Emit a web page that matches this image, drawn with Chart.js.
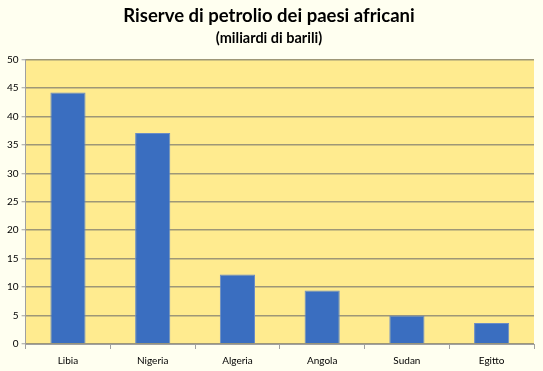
<!DOCTYPE html>
<html>
<head>
<meta charset="utf-8">
<script src="https://cdn.jsdelivr.net/npm/chart.js@4"></script>
<style>
  html, body { margin: 0; padding: 0; background: #fffff0; }
  #wrap { width: 543px; height: 371px; }
</style>
</head>
<body>
<div id="wrap"><canvas id="chartRiserve" width="543" height="371"></canvas></div>
<script>
// categories and values (miliardi di barili)
var paesi = ["Libia", "Nigeria", "Algeria", "Angola", "Sudan", "Egitto"];
var riserve = [44.2, 37.1, 12.2, 9.4, 5.0, 3.7];
var yTicks = [0, 5, 10, 15, 20, 25, 30, 35, 40, 45, 50];

var font = "Lato, 'Open Sans', sans-serif";

// paint the yellow plot area behind the bars
var plotBg = {
  id: 'plotBg',
  beforeDraw: function(chart) {
    var a = chart.chartArea, ctx = chart.ctx;
    ctx.save();
    ctx.fillStyle = '#ffeb8f';
    ctx.fillRect(a.left, a.top, a.right - a.left, a.bottom - a.top);
    ctx.restore();
  }
};

var ctx = document.getElementById("chartRiserve").getContext("2d");
var chart = new Chart(ctx, {
  type: 'bar',
  data: {
    labels: paesi,
    datasets: [{
      data: riserve,
      backgroundColor: '#3a6ec0',
      borderColor: '#6a8cc6',
      borderWidth: 1,
      barPercentage: 0.415,
      categoryPercentage: 1
    }]
  },
  options: {
    responsive: false,
    animation: false,
    layout: { padding: { left: 4, right: 9, top: 5, bottom: -2 } },
    plugins: {
      legend: { display: false },
      tooltip: { enabled: false },
      title: {
        display: true,
        text: 'Riserve di petrolio dei paesi africani',
        color: '#000',
        font: { family: font, size: 18.5, weight: 'bold' },
        padding: { top: 0, bottom: 2 }
      },
      subtitle: {
        display: true,
        text: '(miliardi di barili)',
        color: '#000',
        font: { family: font, size: 14.5, weight: 'bold' },
        padding: { top: 0, bottom: 13 }
      }
    },
    scales: {
      x: {
        grid: {
          display: true,
          drawOnChartArea: false,
          drawTicks: true,
          tickLength: 5,
          color: '#a0a0a0'
        },
        border: { display: true, color: '#a0a0a0', width: 1 },
        ticks: { color: '#000', font: { family: font, size: 10 }, padding: 6 }
      },
      y: {
        min: 0,
        max: 50,
        afterBuildTicks: function(axis) {
          axis.ticks = yTicks.map(function(v) { return { value: v }; });
        },
        grid: {
          color: '#9e9777',
          lineWidth: 1.5,
          tickLength: 4,
          tickColor: '#a0a0a0',
          tickWidth: 1
        },
        border: { display: true, color: '#a0a0a0', width: 1 },
        ticks: { color: '#000', font: { family: font, size: 10 }, padding: 3 }
      }
    }
  },
  plugins: [plotBg]
});
</script>
</body>
</html>
